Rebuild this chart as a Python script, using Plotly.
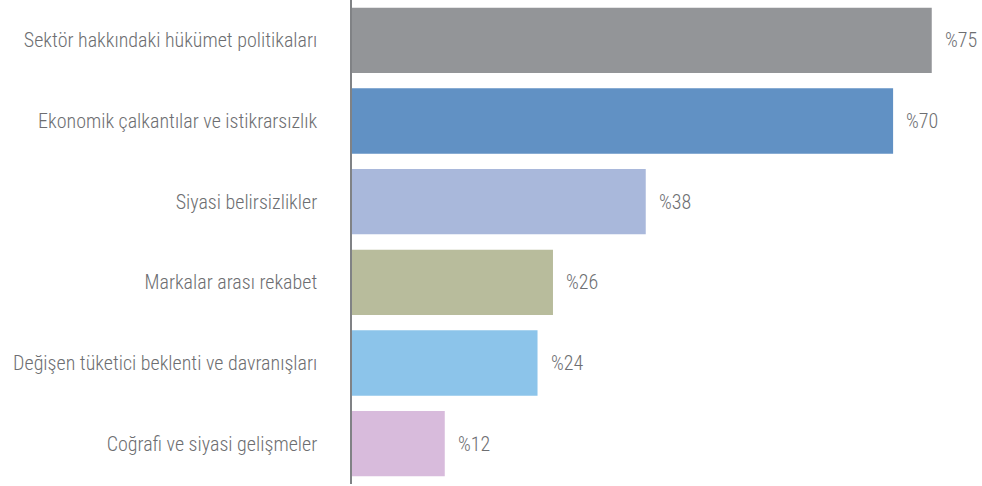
import plotly.graph_objects as go

categories = [
    "Sektör hakkındaki hükümet politikaları",
    "Ekonomik çalkantılar ve istikrarsızlık",
    "Siyasi belirsizlikler",
    "Markalar arası rekabet",
    "Değişen tüketici beklenti ve davranışları",
    "Coğrafi ve siyasi gelişmeler",
]
values = [75, 70, 38, 26, 24, 12]
value_labels = ["%75", "%70", "%38", "%26", "%24", "%12"]
colors = ["#939598", "#6191C4", "#A9B8DB", "#B8BC9C", "#8CC4EA", "#D8BBDC"]

FONT = "Roboto Condensed, Liberation Sans Narrow, Arial Narrow, Roboto, sans-serif"
TXT = "#6d6e71"

fig = go.Figure(
    go.Bar(
        x=values,
        y=categories,
        orientation="h",
        marker=dict(color=colors, line=dict(width=0)),
        hoverinfo="skip",
    )
)

for v, c, t in zip(values, categories, value_labels):
    fig.add_annotation(
        x=v, y=c, text=t, showarrow=False, xanchor="left", xshift=11,
        font=dict(family=FONT, size=20, color=TXT, weight=300),
    )

fig.update_layout(
    width=982, height=486,
    margin=dict(l=352, r=0, t=0, b=2),
    paper_bgcolor="white", plot_bgcolor="white",
    bargap=0.19,
    showlegend=False,
    font=dict(family=FONT, size=20, color=TXT, weight=300),
)
fig.update_xaxes(range=[0, 81.5], visible=False, fixedrange=True, automargin=False)
fig.update_yaxes(
    range=[5.5, -0.5], showline=True, linecolor="#808285", linewidth=1.5,
    showgrid=False, ticks="", ticklabelstandoff=29, fixedrange=True, automargin=False,
    tickfont=dict(family=FONT, size=20, color=TXT, weight=300),
)

fig.write_html(
    "out.html",
    config={"displayModeBar": False},
    post_script="document.body.style.margin='0';document.body.style.overflow='hidden';",
)
